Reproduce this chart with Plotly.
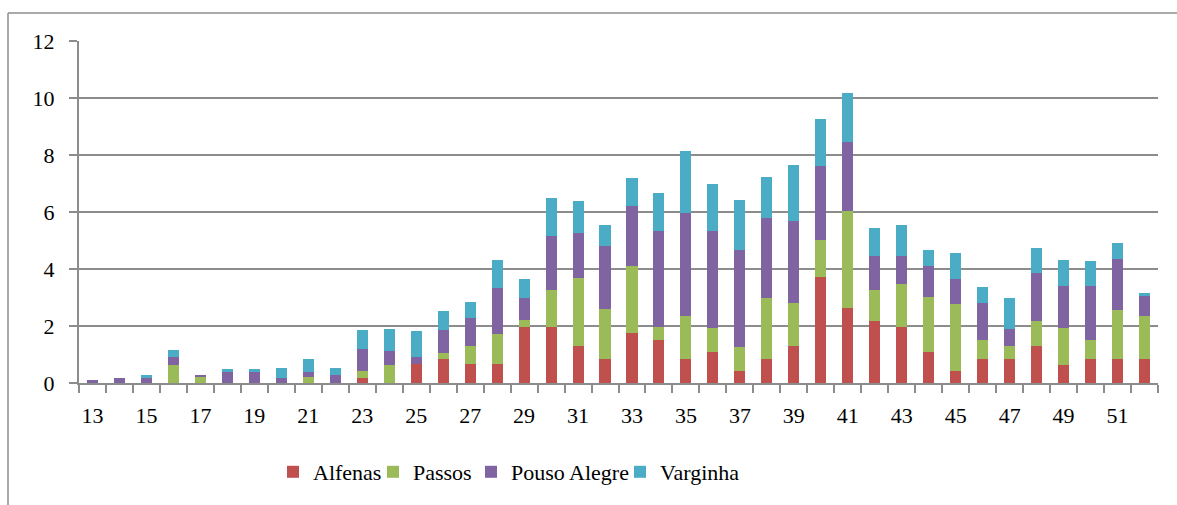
import plotly.graph_objects as go

weeks = [13, 14, 15, 16, 17, 18, 19, 20, 21, 22, 23, 24, 25, 26, 27, 28, 29, 30, 31, 32,
         33, 34, 35, 36, 37, 38, 39, 40, 41, 42, 43, 44, 45, 46, 47, 48, 49, 50, 51, 52]

alfenas = [0, 0, 0, 0, 0, 0, 0, 0, 0, 0,
           0.18, 0, 0.65, 0.85, 0.65, 0.65, 1.98, 1.98, 1.31, 0.85,
           1.74, 1.52, 0.85, 1.09, 0.42, 0.85, 1.31, 3.73, 2.64, 2.19,
           1.98, 1.09, 0.42, 0.85, 0.85, 1.31, 0.64, 0.85, 0.85, 0.85]

passos = [0, 0, 0, 0.62, 0.20, 0, 0, 0, 0.20, 0,
          0.23, 0.62, 0, 0.22, 0.64, 1.07, 0.22, 1.29, 2.36, 1.73,
          2.38, 0.43, 1.50, 0.85, 0.85, 2.14, 1.49, 1.29, 3.40, 1.06,
          1.49, 1.93, 2.35, 0.66, 0.45, 0.87, 1.30, 0.66, 1.72, 1.51]

pouso_alegre = [0.09, 0.18, 0.18, 0.29, 0.09, 0.37, 0.37, 0.19, 0.19, 0.27,
                0.80, 0.49, 0.28, 0.80, 1.00, 1.60, 0.80, 1.88, 1.60, 2.21,
                2.09, 3.40, 3.60, 3.41, 3.41, 2.81, 2.90, 2.61, 2.40, 1.21,
                1.00, 1.10, 0.89, 1.29, 0.61, 1.69, 1.48, 1.91, 1.79, 0.70]

varginha = [0, 0, 0.11, 0.24, 0, 0.12, 0.12, 0.34, 0.44, 0.24,
            0.66, 0.77, 0.88, 0.67, 0.55, 1.00, 0.65, 1.33, 1.11, 0.77,
            0.98, 1.30, 2.20, 1.63, 1.75, 1.42, 1.96, 1.63, 1.75, 0.98,
            1.09, 0.53, 0.89, 0.56, 1.07, 0.87, 0.88, 0.86, 0.55, 0.11]

x_tick_vals = [13, 15, 17, 19, 21, 23, 25, 27, 29, 31, 33, 35, 37, 39, 41, 43, 45, 47, 49, 51]
x_tick_text = ["13", "15", "17", "19", "21", "23", "25", "27", "29", "31",
               "33", "35", "37", "39", "41", "43", "45", "47", "49", "51"]

series = [
    ("Alfenas", alfenas, "#C0504D"),
    ("Passos", passos, "#9BBB59"),
    ("Pouso Alegre", pouso_alegre, "#8064A2"),
    ("Varginha", varginha, "#4BACC6"),
]

FONT = "Liberation Serif, Times New Roman, serif"
GRAY = "#8c8c8c"

W, H = 1177, 505
L, R, T, B = 79, 19, 41, 122
pw, ph = W - L - R, H - T - B


def px_x(px):
    return (px - L) / pw


def px_y(py):
    return (H - B - py) / ph


# approximate left pixel position of each legend entry's text in the reference
legend_text_px = [310, 410, 508, 657]
legend_names = ["legend", "legend2", "legend3", "legend4"]

fig = go.Figure()
for (name, vals, color), lg in zip(series, legend_names):
    fig.add_trace(go.Bar(
        x=weeks, y=vals, name=name,
        marker=dict(color=color, line=dict(width=0)),
        width=0.41,
        legend=lg,
    ))

legend_common = dict(
    orientation="h",
    xanchor="left",
    y=px_y(472), yanchor="middle",
    font=dict(family=FONT, size=22, color="black"),
    bgcolor="rgba(0,0,0,0)",
    borderwidth=0,
)

layout_legends = {}
for lg, tx in zip(legend_names, legend_text_px):
    layout_legends[lg] = dict(legend_common, x=px_x(tx - 37))

fig.update_layout(
    width=W, height=H,
    margin=dict(l=L, r=R, t=T, b=B, pad=0),
    barmode="stack",
    paper_bgcolor="white",
    plot_bgcolor="white",
    font=dict(family=FONT, size=22, color="black"),
    showlegend=True,
    xaxis=dict(
        range=[12.5, 52.5],
        tickmode="array",
        tickvals=x_tick_vals,
        ticktext=x_tick_text,
        ticks="",
        showgrid=False,
        zeroline=False,
        showline=True, linecolor=GRAY, linewidth=2,
        ticklabelstandoff=12,
        tickfont=dict(family=FONT, size=22, color="black"),
        minor=dict(tick0=12.5, dtick=1, ticks="outside", ticklen=8,
                   tickwidth=2, tickcolor=GRAY, showgrid=False),
        fixedrange=True,
    ),
    yaxis=dict(
        range=[0, 12],
        tickmode="linear", tick0=0, dtick=2,
        ticks="outside", ticklen=8, tickwidth=2, tickcolor=GRAY,
        showgrid=True, gridcolor=GRAY, gridwidth=2,
        zeroline=False,
        showline=True, linecolor=GRAY, linewidth=2,
        ticklabelstandoff=10,
        tickfont=dict(family=FONT, size=22, color="black"),
        fixedrange=True,
    ),
    shapes=[
        dict(type="line", xref="paper", yref="paper",
             x0=px_x(8), x1=px_x(1177), y0=px_y(13), y1=px_y(13),
             line=dict(color=GRAY, width=1.5)),
        dict(type="line", xref="paper", yref="paper",
             x0=px_x(8), x1=px_x(8), y0=px_y(13), y1=px_y(505),
             line=dict(color=GRAY, width=1.5)),
    ],
    **layout_legends,
)

fig.write_html(
    "out.html",
    config={"displayModeBar": False},
    post_script="document.body.style.margin='0';document.body.style.overflow='hidden';",
)
